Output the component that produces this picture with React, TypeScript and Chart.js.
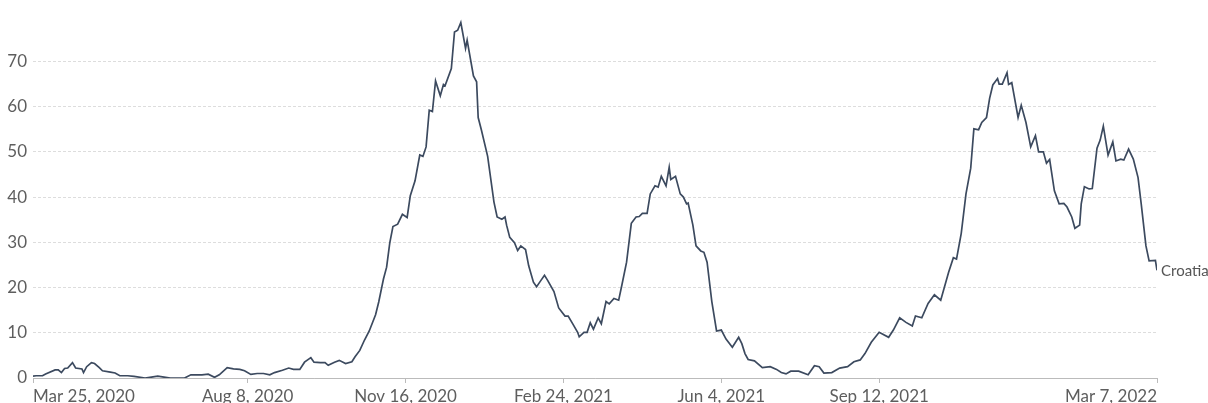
import React, { useEffect, useRef } from "react";
import { Chart, registerables } from "chart.js";

Chart.register(...registerables);

const SERIES_NAME = "Croatia";

// day index counted from Mar 25, 2020
const DAYS = [
  0, 2, 6, 8, 14, 16, 18, 20, 22, 25, 27, 31, 32, 34, 37, 39, 42, 44, 49, 52,
  55, 60, 64, 71, 75, 79, 83, 87, 96, 100, 107, 111, 115, 118, 123, 127, 131, 134, 138, 142,
  146, 150, 153, 158, 162, 165, 169, 172, 176, 178, 182, 185, 187, 191, 194, 198, 202, 204, 207, 210,
  213, 217, 219, 222, 224, 226, 228, 231, 234, 237, 239, 242, 245, 247, 249, 251, 253, 255, 258, 260,
  261, 265, 267, 269, 271, 274, 275, 279, 281, 282, 284, 288, 292, 294, 297, 299, 300, 302, 305, 307,
  309, 312, 314, 317, 319, 321, 324, 326, 330, 333, 337, 339, 342, 345, 346, 349, 351, 353, 355, 358,
  360, 363, 365, 368, 371, 373, 376, 379, 382, 384, 386, 389, 391, 394, 396, 398, 401, 403, 404, 407,
  410, 412, 414, 415, 418, 420, 423, 425, 427, 430, 433, 436, 439, 443, 447, 449, 451, 453, 457, 462,
  467, 471, 474, 477, 480, 485, 491, 495, 498, 501, 506, 511, 516, 520, 524, 527, 531, 536, 542, 545,
  549, 553, 557, 559, 563, 567, 571, 575, 580, 583, 585, 588, 591, 594, 596, 599, 601, 604, 606, 608,
  611, 612, 614, 617, 618, 620, 624, 626, 629, 632, 635, 637, 640, 642, 644, 647, 650, 653, 655, 658,
  660, 663, 664, 666, 669, 671, 674, 676, 678, 681, 684, 686, 689, 691, 694, 697, 700, 702, 705, 707,
  711, 712,
];

// daily values (7-day average)
const VALUES = [
  0.4, 0.5, 0.5, 0.9, 1.8, 1.8, 1.2, 2.1, 2.2, 3.4, 2.2, 2.0, 1.2, 2.5, 3.4, 3.2, 2.3, 1.6, 1.3, 1.1,
  0.5, 0.5, 0.35, 0.0, 0.2, 0.4, 0.2, 0.0, 0.0, 0.7, 0.7, 0.85, 0.15, 0.7, 2.3, 2.0, 1.9, 1.6, 0.8, 1.0,
  1.0, 0.7, 1.2, 1.7, 2.2, 1.9, 1.9, 3.5, 4.5, 3.5, 3.4, 3.4, 2.8, 3.5, 3.9, 3.2, 3.6, 4.7, 6.1, 8.4,
  10.4, 14.0, 16.8, 21.9, 24.5, 29.9, 33.5, 34.0, 36.2, 35.5, 40.3, 43.6, 49.3, 49.0, 51.1, 59.2, 58.9, 65.7, 62.4, 64.9,
  64.6, 68.4, 76.5, 76.9, 78.6, 72.9, 74.7, 66.8, 65.5, 57.6, 54.9, 49.0, 38.9, 35.6, 35.1, 35.6, 33.8, 31.1, 29.9, 28.2,
  29.2, 28.4, 24.8, 21.2, 20.2, 21.2, 22.7, 21.6, 19.1, 15.5, 13.7, 13.7, 11.9, 10.1, 9.1, 10.1, 10.1, 12.2, 10.8, 13.3,
  12.0, 16.9, 16.4, 17.6, 17.2, 20.5, 25.6, 34.2, 35.6, 35.7, 36.4, 36.4, 40.7, 42.5, 42.2, 44.6, 42.5, 46.6, 43.9, 44.6,
  40.7, 40.0, 38.5, 38.7, 33.8, 29.2, 28.1, 27.8, 25.6, 16.9, 10.4, 10.6, 8.6, 6.8, 9.0, 7.6, 5.4, 4.1, 3.8, 2.3,
  2.5, 1.9, 1.2, 0.9, 1.5, 1.5, 0.7, 2.7, 2.5, 1.1, 1.2, 2.2, 2.5, 3.6, 4.0, 5.4, 7.9, 10.1, 9.0, 10.6,
  13.3, 12.3, 11.5, 13.7, 13.3, 16.5, 18.4, 17.2, 23.4, 26.6, 26.3, 32.0, 40.7, 46.4, 55.1, 54.9, 56.5, 57.6, 61.9, 64.8,
  66.2, 65.0, 65.0, 67.5, 64.9, 65.3, 57.6, 60.3, 56.5, 51.1, 53.6, 50.0, 50.0, 47.5, 48.3, 41.4, 38.5, 38.6, 37.8, 35.6,
  33.1, 33.8, 38.5, 42.3, 41.8, 41.9, 50.8, 52.6, 55.7, 49.3, 52.2, 48.0, 48.4, 48.2, 50.6, 48.4, 44.3, 38.5, 29.2, 25.9,
  26.0, 23.8,
];

const X_TICK_DAYS = [0, 136, 236, 336, 436, 536, 712];
const X_TICK_LABELS = [
  "Mar 25, 2020",
  "Aug 8, 2020",
  "Nov 16, 2020",
  "Feb 24, 2021",
  "Jun 4, 2021",
  "Sep 12, 2021",
  "Mar 7, 2022",
];
const Y_TICKS = [0, 10, 20, 30, 40, 50, 60, 70];

const LINE_COLOR = "#3c4a5f";
const TEXT_COLOR = "#5e5e5e";
const FONT = "Lato, 'Noto Sans', sans-serif";

export default function App() {
  const ref = useRef<HTMLCanvasElement | null>(null);

  useEffect(() => {
    document.body.style.margin = "0";
    const canvas = ref.current;
    if (!canvas) return;

    const endLabel = {
      id: "endLabel",
      afterDatasetsDraw(chart: any) {
        const meta = chart.getDatasetMeta(0);
        const pts = meta.data;
        if (!pts.length) return;
        const last = pts[pts.length - 1];
        const ctx = chart.ctx;
        ctx.save();
        ctx.font = `15px ${FONT}`;
        ctx.fillStyle = "#555555";
        ctx.textAlign = "left";
        ctx.textBaseline = "middle";
        ctx.fillText(SERIES_NAME, chart.chartArea.right + 4, last.y + 1);
        ctx.restore();
      },
    };

    const chart = new Chart(canvas, {
      type: "line",
      data: {
        datasets: [
          {
            label: SERIES_NAME,
            data: DAYS.map((d, i) => ({ x: d, y: VALUES[i] })),
            borderColor: LINE_COLOR,
            borderWidth: 1.7,
            pointRadius: 0,
            tension: 0,
            fill: false,
          },
        ],
      },
      options: {
        animation: false,
        responsive: false,
        maintainAspectRatio: false,
        layout: { padding: { top: 8, right: 51, left: 0, bottom: 0 } },
        plugins: {
          legend: { display: false },
          tooltip: { enabled: false },
        },
        scales: {
          x: {
            type: "linear",
            min: 0,
            max: 712,
            afterBuildTicks: (scale: any) => {
              scale.ticks = X_TICK_DAYS.map((v) => ({ value: v }));
            },
            afterFit: (scale: any) => {
              scale.height = 25;
            },
            ticks: {
              autoSkip: false,
              maxRotation: 0,
              align: "inner",
              padding: 3,
              color: TEXT_COLOR,
              font: { family: FONT, size: 17 },
              callback: (value: any) => {
                const i = X_TICK_DAYS.indexOf(Number(value));
                return i >= 0 ? X_TICK_LABELS[i] : "";
              },
            },
            grid: {
              display: true,
              drawOnChartArea: false,
              drawTicks: true,
              tickLength: 5,
              color: "#bbbbbb",
            },
            border: { display: true, color: "#bbbbbb", width: 1 },
          },
          y: {
            type: "linear",
            min: 0,
            max: 80,
            afterBuildTicks: (scale: any) => {
              scale.ticks = Y_TICKS.map((v) => ({ value: v }));
            },
            afterFit: (scale: any) => {
              scale.width = 33;
            },
            ticks: {
              padding: 6,
              color: TEXT_COLOR,
              font: { family: FONT, size: 17 },
            },
            grid: {
              color: "#dddddd",
              drawTicks: false,
              lineWidth: 1,
            },
            border: { display: false, dash: [3, 2] },
          },
        },
      },
      plugins: [endLabel],
    });

    return () => chart.destroy();
  }, []);

  return (
    <div style={{ position: "absolute", left: 0, top: 0, width: 1208, height: 403 }}>
      <canvas ref={ref} width={1208} height={403} style={{ display: "block" }} />
    </div>
  );
}
